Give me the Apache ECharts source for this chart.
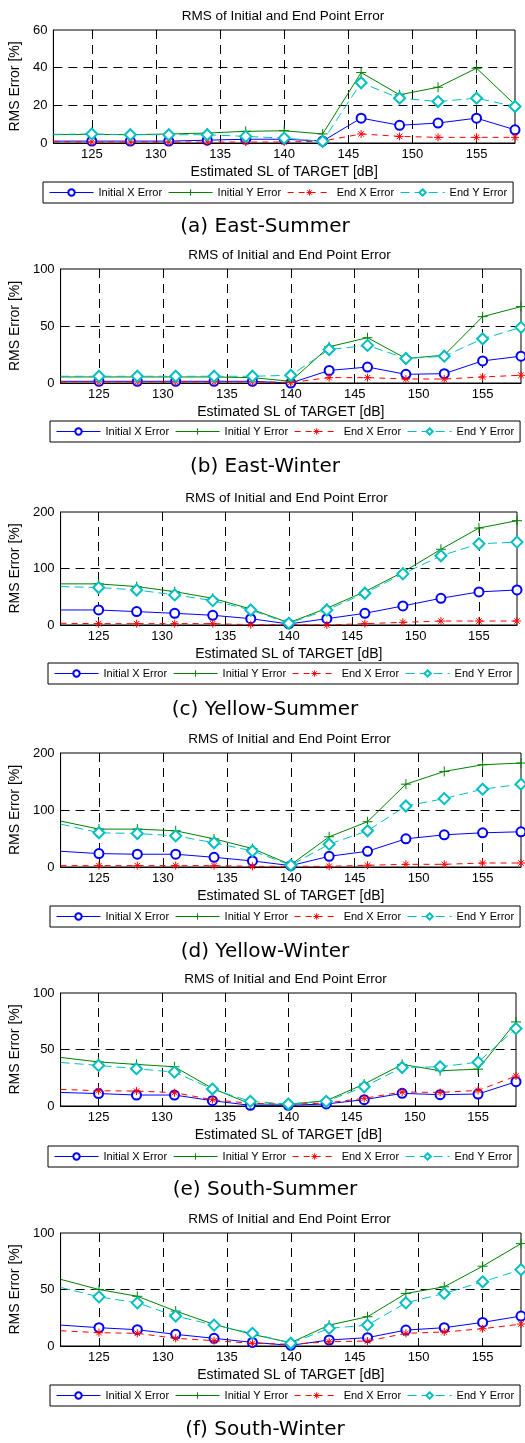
<!DOCTYPE html>
<html>
<head>
<meta charset="utf-8">
<script src="https://cdn.jsdelivr.net/npm/echarts@6/dist/echarts.min.js"></script>
<style>
html, body { margin: 0; padding: 0; background: #fff; }
#chart { width: 525px; height: 1443px; }
</style>
</head>
<body>
<div id="chart"></div>
<script>
// x positions (estimated SL, dB); first point only feeds the line at the left edge
var xs = [122, 125, 128, 131, 134, 137, 140, 143, 146, 149, 152, 155, 158];
var seriesNames = ['Initial X Error', 'Initial Y Error', 'End X Error', 'End Y Error'];
var captions = ['(a) East-Summer', '(b) East-Winter', '(c) Yellow-Summer',
                '(d) Yellow-Winter', '(e) South-Summer', '(f) South-Winter'];
var yMax = [60, 100, 200, 200, 100, 100];
var yStep = [20, 50, 100, 100, 50, 50];

// (a) East-Summer
var eastSummerIX = [1, 1, 1, 1, 1.5, 2, 2, 1, 13.2, 9.4, 10.6, 13.2, 7];
var eastSummerIY = [4.4, 4.6, 4.4, 4.8, 5.3, 6.2, 6.5, 4.8, 37.4, 25.6, 29.6, 39.7, 20.3];
var eastSummerEX = [0.7, 0.5, 0.5, 0.5, 0.5, 0.5, 0.5, 1, 4.8, 3.5, 3, 3, 3];
var eastSummerEY = [4.6, 4.8, 4.4, 4.4, 4.4, 3.5, 2.6, 0.9, 32, 23.8, 22, 23.8, 19.4];
// (b) East-Winter
var eastWinterIX = [1.5, 1.5, 1.5, 1.5, 1.5, 1.5, 0, 11, 14, 7.6, 8.2, 19.4, 23.5];
var eastWinterIY = [5.3, 5.3, 5.3, 5.3, 5.3, 4.7, 1.5, 31.8, 39.7, 21.5, 24.4, 58.2, 67];
var eastWinterEX = [1, 1, 1, 1, 1, 1, 0.5, 4.7, 4.7, 3.5, 3.5, 5.3, 6.8];
var eastWinterEY = [5.9, 5.9, 5.9, 5.9, 5.9, 5.9, 6.8, 29.4, 33, 21.5, 23.5, 38.8, 48.8];
// (c) Yellow-Summer
var yellowSummerIX = [26.6, 26.6, 23.7, 20.7, 17.2, 11.2, 1.8, 11.2, 20.7, 33.7, 47.3, 58.6, 62];
var yellowSummerIY = [72.8, 72.8, 68, 59, 47.3, 28.4, 4, 29.6, 59, 93.5, 134, 171.6, 184.6];
var yellowSummerEX = [3, 2.4, 2.4, 2.4, 2.4, 0.6, 0.6, 0, 2.4, 4.7, 7, 7, 7];
var yellowSummerEY = [68, 66.3, 62, 53.3, 43.2, 26.6, 3, 26.6, 56.2, 90.5, 122.5, 143.8, 146.7];
// (d) Yellow-Winter
var yellowWinterIX = [27.6, 23.5, 22.4, 22.4, 17, 10.6, 2.4, 18.8, 27.6, 49.4, 56.5, 60, 61.8];
var yellowWinterIY = [80.6, 66.5, 66.5, 63.5, 49.4, 32.4, 4, 53, 79.4, 145.3, 167.6, 179.4, 182.4];
var yellowWinterEX = [2.4, 2.4, 2.4, 2.4, 2.4, 1.2, 1.2, 1.2, 3, 4.7, 4.7, 7, 7];
var yellowWinterEY = [75.3, 60, 58.8, 54.7, 42.4, 28.2, 3, 40, 63.5, 107, 120, 136.5, 145.3];
// (e) South-Summer
var southSummerIX = [12, 11, 9.7, 9.7, 4.7, 0.6, 0.6, 1.8, 5.6, 11.2, 10, 10.6, 21.5];
var southSummerIY = [43, 39, 36.8, 34.7, 15.6, 1.8, 1.5, 4.7, 19.4, 36.8, 31.2, 32.6, 74.4];
var southSummerEX = [14.7, 13.5, 13.2, 11.8, 5.6, 2.4, 1.5, 2.6, 6.8, 12.4, 12, 13.8, 26.5];
var southSummerEY = [38.5, 35.9, 33, 30, 15, 4.1, 1.8, 4.1, 17, 34.1, 34.7, 38.8, 68.5];
// (f) South-Winter
var southWinterIX = [18.5, 16.2, 14.4, 10.3, 6.8, 3.2, 0.6, 5.3, 7.4, 14.1, 16.2, 20.9, 26.5];
var southWinterIY = [59, 50, 44, 30.9, 19.1, 10.3, 2.9, 18.5, 25.9, 46.5, 52.4, 70.6, 90.6];
var southWinterEX = [13.5, 11.8, 11.2, 6.8, 4.7, 2.4, 1.5, 3.8, 4.4, 11.2, 12.4, 15.3, 19.4];
var southWinterEY = [51.8, 43.5, 38.2, 26.5, 18.5, 11.2, 2.4, 15.6, 18.5, 38.2, 46.5, 56.8, 67.6];

var panelData = [
    [eastSummerIX, eastSummerIY, eastSummerEX, eastSummerEY],
    [eastWinterIX, eastWinterIY, eastWinterEX, eastWinterEY],
    [yellowSummerIX, yellowSummerIY, yellowSummerEX, yellowSummerEY],
    [yellowWinterIX, yellowWinterIY, yellowWinterEX, yellowWinterEY],
    [southSummerIX, southSummerIY, southSummerEX, southSummerEY],
    [southWinterIX, southWinterIY, southWinterEX, southWinterEY]
];

// pixel layout of each panel
var layout = [
    {top: 30,   bottom: 143,  left: 51, right: 515, legLeft: 43, legTop: 182,  capY: 227},
    {top: 269,  bottom: 383,  left: 58, right: 521, legLeft: 50, legTop: 421,  capY: 467},
    {top: 512,  bottom: 625,  left: 56, right: 517, legLeft: 48, legTop: 663,  capY: 710},
    {top: 753,  bottom: 867,  left: 58, right: 521, legLeft: 50, legTop: 906,  capY: 952},
    {top: 993,  bottom: 1106, left: 55, right: 516, legLeft: 48, legTop: 1146, capY: 1190},
    {top: 1233, bottom: 1346, left: 58, right: 521, legLeft: 50, legTop: 1385, capY: 1430}
];

var FONT = '"Liberation Sans", Arial, sans-serif';
var styles = [
    {color: '#0000ff', symbol: 'emptyCircle', size: 9, dash: 'solid'},
    {color: '#008000', symbol: 'path://M0,5L10,5M5,0L5,10', size: 10, dash: 'solid'},
    {color: '#ff0000', symbol: 'path://M0,5L10,5M5,0L5,10M1.6,1.6L8.4,8.4M8.4,1.6L1.6,8.4', size: 8, dash: [6, 5]},
    {color: '#00bfbf', symbol: 'emptyDiamond', size: 11, dash: [9, 5]}
];

var chart = echarts.init(document.getElementById('chart'));

var legendItems = seriesNames.map(function (n, k) {
    var st = styles[k];
    return {
        name: n,
        itemStyle: {color: st.color, borderColor: st.color, borderWidth: 1},
        lineStyle: {color: st.color, width: 1, type: st.dash}
    };
});

var grids = [], xAxes = [], yAxes = [], series = [], titles = [], legends = [];
layout.forEach(function (p, i) {
    grids.push({
        left: p.left, top: p.top, width: p.right - p.left, height: p.bottom - p.top,
        show: true, borderColor: '#000', borderWidth: 1, backgroundColor: 'transparent'
    });
    xAxes.push({
        gridIndex: i, type: 'value', min: 122, max: 158, minInterval: 5, maxInterval: 5,
        name: 'Estimated SL of TARGET [dB]', nameLocation: 'middle', nameGap: 22,
        nameTextStyle: {fontFamily: FONT, fontSize: 14, color: '#000'},
        axisLine: {show: true, onZero: false, lineStyle: {color: '#000', width: 1}},
        axisTick: {show: false},
        axisLabel: {
            fontFamily: FONT, fontSize: 13, color: '#000', margin: 5,
            showMinLabel: false, showMaxLabel: false,
            formatter: function (v) { return v % 5 === 0 ? v : ''; }
        },
        splitLine: {show: true, showMinLine: false, showMaxLine: false,
                    lineStyle: {color: '#000', width: 1, type: [9, 6]}}
    });
    yAxes.push({
        gridIndex: i, type: 'value', min: 0, max: yMax[i], interval: yStep[i],
        name: 'RMS Error [%]', nameLocation: 'middle', nameGap: p.left - 23,
        nameTextStyle: {fontFamily: FONT, fontSize: 14, color: '#000'},
        axisLine: {show: true, lineStyle: {color: '#000', width: 1}},
        axisTick: {show: false},
        axisLabel: {fontFamily: FONT, fontSize: 13, color: '#000', margin: 6},
        splitLine: {show: true, showMinLine: false, showMaxLine: false,
                    lineStyle: {color: '#000', width: 1, type: [9, 6]}}
    });
    seriesNames.forEach(function (name, k) {
        var st = styles[k];
        var vals = panelData[i][k];
        series.push({
            name: name, type: 'line', xAxisIndex: i, yAxisIndex: i,
            data: xs.map(function (x, j) {
                return j === 0 ? {value: [x, vals[j]], symbol: 'none'} : [x, vals[j]];
            }),
            symbol: st.symbol, symbolSize: st.size, showAllSymbol: true,
            itemStyle: {color: st.color, borderColor: st.color, borderWidth: 1},
            lineStyle: {color: st.color, width: 1, type: st.dash},
            animation: false, clip: true, z: 3 + k
        });
    });
    titles.push({
        text: 'RMS of Initial and End Point Error',
        left: (p.left + p.right) / 2, textAlign: 'center', top: p.top - 22, padding: 0,
        textStyle: {fontFamily: FONT, fontSize: 13.5, fontWeight: 'normal', color: '#000', lineHeight: 16}
    });
    titles.push({
        text: captions[i],
        left: 265, textAlign: 'center', top: p.capY - 12, padding: 0,
        textStyle: {fontFamily: '"DejaVu Sans", sans-serif', fontSize: 20,
                    fontWeight: 'normal', color: '#000', lineHeight: 24}
    });
    legends.push({
        data: legendItems, left: p.legLeft, top: p.legTop, width: 700,
        orient: 'horizontal', padding: [5, 6], itemGap: 6, itemWidth: 44, itemHeight: 8,
        borderColor: '#000', borderWidth: 1, backgroundColor: '#fff',
        textStyle: {fontFamily: FONT, fontSize: 11, color: '#000'},
        selectedMode: false
    });
});

chart.setOption({
    animation: false,
    backgroundColor: '#fff',
    title: titles,
    legend: legends,
    grid: grids,
    xAxis: xAxes,
    yAxis: yAxes,
    series: series
});
</script>
</body>
</html>
